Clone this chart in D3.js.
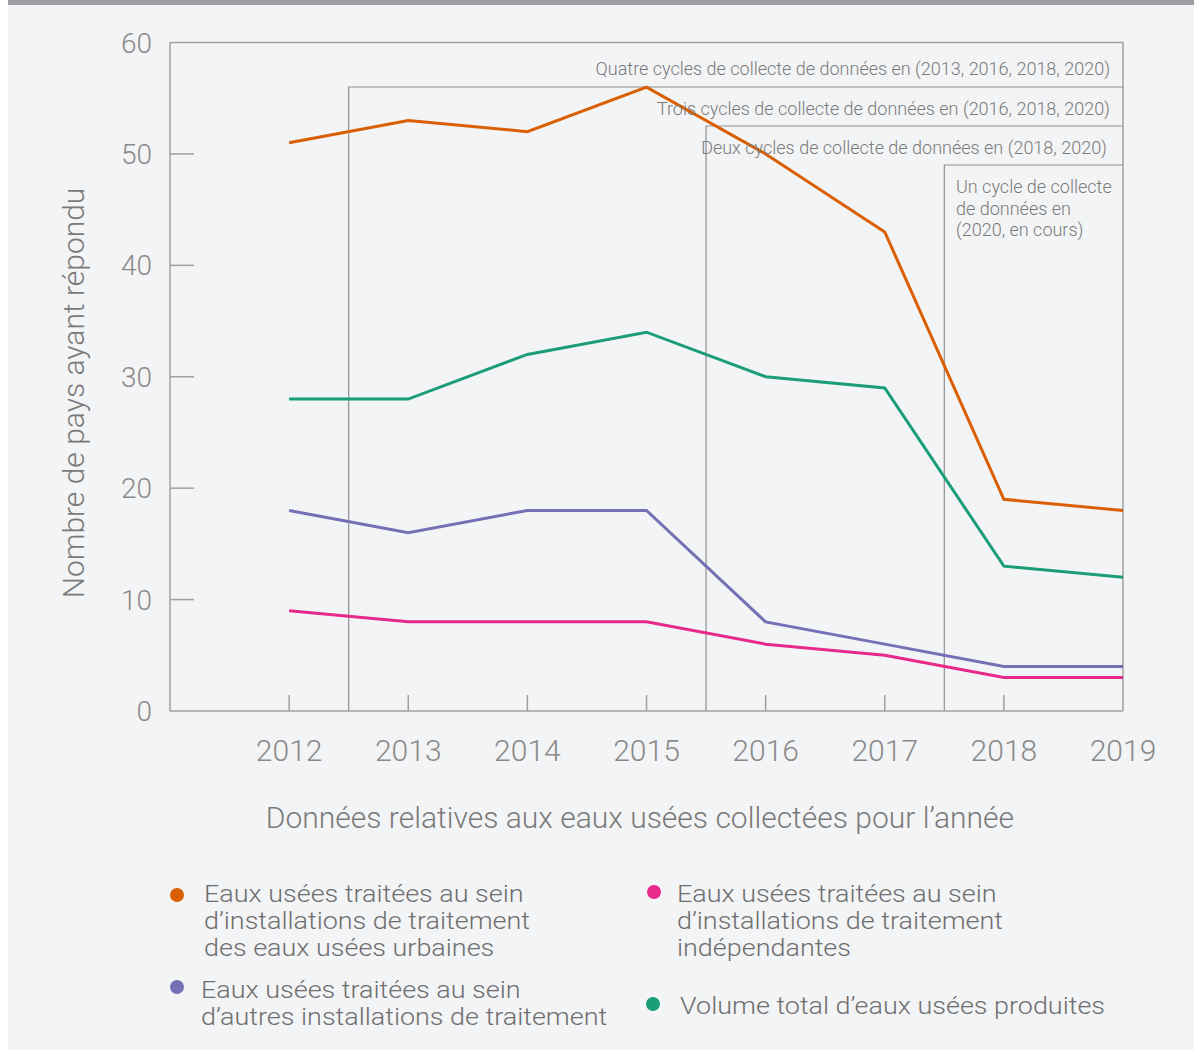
<!DOCTYPE html>
<html>
<head>
<meta charset="utf-8">
<script src="https://cdn.jsdelivr.net/npm/d3@7"></script>
<style>
  body { margin: 0; background: #fff; }
  svg text { font-family: Roboto, "Noto Sans", sans-serif; font-weight: 300; }
</style>
</head>
<body>
<div class="Graph"></div>
<script>
// data
var years = [2012, 2013, 2014, 2015, 2016, 2017, 2018, 2019];
var urbaines = [51, 53, 52, 56, 50, 43, 19, 18];
var autres = [18, 16, 18, 18, 8, 6, 4, 4];
var independantes = [9, 8, 8, 8, 6, 5, 3, 3];
var volumeTotal = [28, 28, 32, 34, 30, 29, 13, 12];
var yTicks = [0, 10, 20, 30, 40, 50, 60];

// cycle boxes: start year (box begins half a year before) and label
var cycleStarts = [2012.5, 2015.5, 2017.5];
var cycleLabels = [
    "Quatre cycles de collecte de données en (2013, 2016, 2018, 2020)",
    "Trois cycles de collecte de données en (2016, 2018, 2020)",
    "Deux cycles de collecte de données en (2018, 2020)"
];
var unCycle = ["Un cycle de collecte", "de données en", "(2020, en cours)"];

var series = [
    { name: "urbaines", values: urbaines, color: "#d95f02" },
    { name: "volume", values: volumeTotal, color: "#1b9e77" },
    { name: "autres", values: autres, color: "#7570b3" },
    { name: "independantes", values: independantes, color: "#e7298a" }
];

var W = 1194, H = 1050;

var svg = d3.select(".Graph")
    .append("svg")
    .attr("width", W)
    .attr("height", H);

// background panel + top bar
svg.append("rect").attr("x", 8).attr("y", 0).attr("width", W - 8).attr("height", H).attr("fill", "#f3f4f6");
svg.append("rect").attr("x", 8).attr("y", 0).attr("width", W - 8).attr("height", 5).attr("fill", "#9d9da1");

var x = d3.scaleLinear().domain([2011, 2019]).range([170, 1123]);
var y = d3.scaleLinear().domain([0, 60]).range([711, 42.5]);

var lineCol = "#a0a0a0";

// plot frame (top + right)
svg.append("path")
    .attr("d", "M" + x(2011) + "," + y(60) + "H" + x(2019) + "V" + y(0))
    .attr("fill", "none").attr("stroke", lineCol).attr("stroke-width", 1.5);

// cycle boxes
var boxTops = [87, 126, 165];
cycleStarts.forEach(function (s, i) {
    svg.append("path")
        .attr("d", "M" + x(s) + "," + y(0) + "V" + boxTops[i] + "H" + x(2019))
        .attr("fill", "none").attr("stroke", "#8f8f8f").attr("stroke-width", 1.2);
});

// y axis
svg.append("line").attr("x1", x(2011)).attr("x2", x(2011)).attr("y1", y(0)).attr("y2", y(60))
    .attr("stroke", lineCol).attr("stroke-width", 1.5);
svg.selectAll(".ytick")
    .data(yTicks.filter(function (d) { return d > 0 && d < 60; }))
    .enter().append("line")
    .attr("x1", x(2011)).attr("x2", x(2011) + 24)
    .attr("y1", function (d) { return y(d); }).attr("y2", function (d) { return y(d); })
    .attr("stroke", lineCol).attr("stroke-width", 1.5);
svg.selectAll(".ylab")
    .data(yTicks)
    .enter().append("text")
    .attr("x", 152).attr("y", function (d) { return y(d) + 10; })
    .attr("text-anchor", "end")
    .attr("font-size", 28).attr("fill", "#8a8a8a")
    .text(function (d) { return d; });

// x axis
svg.append("line").attr("x1", x(2011)).attr("x2", x(2019)).attr("y1", y(0)).attr("y2", y(0))
    .attr("stroke", lineCol).attr("stroke-width", 1.5);
svg.selectAll(".xtick")
    .data(years.slice(0, -1))
    .enter().append("line")
    .attr("x1", function (d) { return x(d); }).attr("x2", function (d) { return x(d); })
    .attr("y1", y(0)).attr("y2", y(0) - 16)
    .attr("stroke", lineCol).attr("stroke-width", 1.5);
svg.selectAll(".xlab")
    .data(years)
    .enter().append("text")
    .attr("x", function (d) { return x(d); }).attr("y", 761)
    .attr("text-anchor", "middle")
    .attr("font-size", 30).attr("fill", "#8a8a8a")
    .text(function (d) { return d; });

// axis titles
svg.append("text")
    .attr("transform", "translate(84,393) rotate(-90)")
    .attr("text-anchor", "middle")
    .attr("font-size", 30).attr("fill", "#7a7a7a")
    .text("Nombre de pays ayant répondu");
svg.append("text")
    .attr("x", 640).attr("y", 828)
    .attr("text-anchor", "middle")
    .attr("font-size", 30).attr("fill", "#7a7a7a")
    .text("Données relatives aux eaux usées collectées pour l’année");

// lines
var line = d3.line()
    .x(function (d, i) { return x(years[i]); })
    .y(function (d) { return y(d); });
series.forEach(function (s) {
    svg.append("path")
        .datum(s.values)
        .attr("d", line)
        .attr("fill", "none")
        .attr("stroke", s.color)
        .attr("stroke-width", 3);
});

// cycle labels (drawn above the lines)
var labelY = [75, 115, 154];
var labelX = [1110, 1110, 1107];
cycleLabels.forEach(function (t, i) {
    svg.append("text")
        .attr("x", labelX[i]).attr("y", labelY[i])
        .attr("text-anchor", "end")
        .attr("font-size", 18).attr("fill", "#7a7a7a")
        .text(t);
});
svg.append("text")
    .attr("font-size", 18).attr("fill", "#7a7a7a")
    .selectAll("tspan")
    .data(unCycle)
    .enter().append("tspan")
    .attr("x", 956)
    .attr("y", function (d, i) { return 193 + i * 21.5; })
    .text(function (d) { return d; });

// legend (text is a little wide in the original, so stretch it)
var legend = [
    { color: "#d95f02", cx: 177, cy: 895, tx: 204, ty: 902, lines: ["Eaux usées traitées au sein", "d’installations de traitement", "des eaux usées urbaines"] },
    { color: "#7570b3", cx: 177, cy: 987, tx: 201, ty: 998, lines: ["Eaux usées traitées au sein", "d’autres installations de traitement"] },
    { color: "#e7298a", cx: 654, cy: 892, tx: 677, ty: 902, lines: ["Eaux usées traitées au sein", "d’installations de traitement", "indépendantes"] },
    { color: "#1b9e77", cx: 653, cy: 1004, tx: 680, ty: 1014, lines: ["Volume total d’eaux usées produites"] }
];
legend.forEach(function (l) {
    svg.append("circle").attr("cx", l.cx).attr("cy", l.cy).attr("r", 7).attr("fill", l.color);
    svg.append("text")
        .attr("transform", "translate(" + l.tx + ",0) scale(1.1,1)")
        .attr("font-size", 24.5).attr("fill", "#6e6e6e")
        .selectAll("tspan")
        .data(l.lines)
        .enter().append("tspan")
        .attr("x", 0)
        .attr("y", function (d, i) { return l.ty + i * 27; })
        .text(function (d) { return d; });
});
</script>
</body>
</html>
